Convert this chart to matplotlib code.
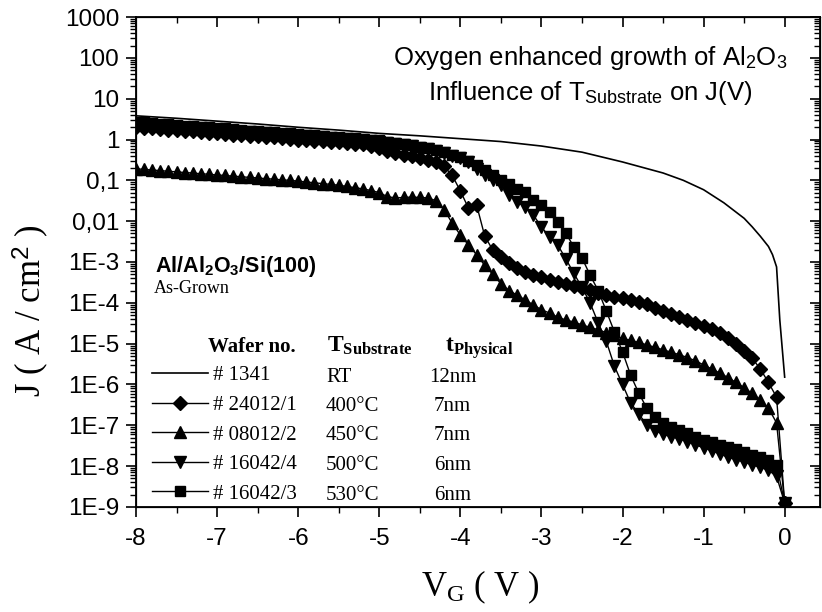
import numpy as np
import matplotlib
matplotlib.use('Agg')
import matplotlib.pyplot as plt
from matplotlib.ticker import FixedLocator, FixedFormatter, LogLocator, NullFormatter, MultipleLocator

plt.rcParams['font.family'] = 'Liberation Sans'
plt.rcParams['axes.unicode_minus'] = False
plt.rcParams['mathtext.fontset'] = 'custom'
plt.rcParams['mathtext.rm'] = 'Liberation Sans'
plt.rcParams['mathtext.sf'] = 'Liberation Sans:bold'
plt.rcParams['mathtext.bf'] = 'Liberation Serif:bold'
plt.rcParams['mathtext.it'] = 'Liberation Serif'

# gate voltage sweep (V), 0.1 V steps
v_gate = [-8.0, -7.9, -7.8, -7.7, -7.6, -7.5, -7.4, -7.3, -7.2, -7.1,
          -7.0, -6.9, -6.8, -6.7, -6.6, -6.5, -6.4, -6.3, -6.2, -6.1,
          -6.0, -5.9, -5.8, -5.7, -5.6, -5.5, -5.4, -5.3, -5.2, -5.1,
          -5.0, -4.9, -4.8, -4.7, -4.6, -4.5, -4.4, -4.3, -4.2, -4.1,
          -4.0, -3.9, -3.8, -3.7, -3.6, -3.5, -3.4, -3.3, -3.2, -3.1,
          -3.0, -2.9, -2.8, -2.7, -2.6, -2.5, -2.4, -2.3, -2.2, -2.1,
          -2.0, -1.9, -1.8, -1.7, -1.6, -1.5, -1.4, -1.3, -1.2, -1.1,
          -1.0, -0.9, -0.8, -0.7, -0.6, -0.5, -0.4, -0.3, -0.2, -0.1,
          0.0]

# log10 of J (A/cm^2)
logj_24012 = [0.30, 0.29, 0.27, 0.26, 0.24, 0.23, 0.21, 0.20, 0.18, 0.17,
              0.15, 0.14, 0.12, 0.11, 0.09, 0.08, 0.06, 0.05, 0.03, 0.02,
              0.00, -0.01, -0.03, -0.04, -0.06, -0.07, -0.09, -0.10, -0.12, -0.15,
              -0.22, -0.28, -0.33, -0.37, -0.41, -0.45, -0.50, -0.56, -0.66, -0.88,
              -1.26, -1.68, -1.60, -2.36, -2.71, -2.88, -3.03, -3.15, -3.24, -3.32,
              -3.37, -3.44, -3.49, -3.53, -3.60, -3.64, -3.69, -3.75, -3.80, -3.85,
              -3.89, -3.94, -3.99, -4.04, -4.12, -4.20, -4.27, -4.34, -4.41, -4.50,
              -4.57, -4.64, -4.74, -4.86, -5.00, -5.18, -5.36, -5.62, -5.95, -6.31,
              -8.90]

logj_08012 = [-0.72, -0.73, -0.75, -0.76, -0.78, -0.79, -0.81, -0.82, -0.84, -0.85,
              -0.87, -0.88, -0.90, -0.91, -0.93, -0.94, -0.96, -0.97, -0.99, -1.00,
              -1.02, -1.04, -1.06, -1.08, -1.10, -1.12, -1.15, -1.18, -1.21, -1.25,
              -1.30, -1.40, -1.43, -1.42, -1.41, -1.42, -1.43, -1.50, -1.72, -2.05,
              -2.34, -2.58, -2.82, -3.08, -3.30, -3.53, -3.70, -3.81, -3.93, -4.05,
              -4.17, -4.25, -4.35, -4.42, -4.47, -4.54, -4.60, -4.66, -4.73, -4.80,
              -4.87, -4.92, -4.97, -5.03, -5.09, -5.15, -5.21, -5.27, -5.34, -5.42,
              -5.52, -5.62, -5.72, -5.83, -5.95, -6.08, -6.22, -6.38, -6.58, -6.94,
              -8.90]

logj_16042_4 = [0.38, 0.37, 0.35, 0.34, 0.32, 0.31, 0.29, 0.28, 0.27, 0.25,
                0.24, 0.22, 0.21, 0.19, 0.18, 0.16, 0.15, 0.14, 0.12, 0.11,
                0.09, 0.08, 0.06, 0.05, 0.04, 0.02, 0.01, -0.01, -0.02, -0.04,
                -0.05, -0.08, -0.11, -0.14, -0.17, -0.20, -0.24, -0.29, -0.34, -0.40,
                -0.45, -0.55, -0.73, -0.88, -1.00, -1.12, -1.35, -1.52, -1.66, -1.85,
                -2.14, -2.39, -2.58, -2.92, -3.28, -3.62, -4.00, -4.49, -4.94, -5.55,
                -6.00, -6.45, -6.72, -6.99, -7.13, -7.22, -7.28, -7.33, -7.40, -7.48,
                -7.55, -7.62, -7.70, -7.78, -7.84, -7.90, -7.97, -8.03, -8.10, -8.25,
                -8.90]

logj_16042_3 = [0.43, 0.42, 0.40, 0.39, 0.37, 0.36, 0.34, 0.33, 0.31, 0.30,
                0.28, 0.27, 0.25, 0.24, 0.22, 0.21, 0.19, 0.18, 0.16, 0.15,
                0.13, 0.12, 0.10, 0.09, 0.07, 0.06, 0.04, 0.03, 0.01, 0.00,
                -0.02, -0.05, -0.08, -0.11, -0.14, -0.18, -0.22, -0.26, -0.31, -0.37,
                -0.42, -0.52, -0.62, -0.75, -0.88, -0.99, -1.10, -1.20, -1.29, -1.48,
                -1.60, -1.78, -2.02, -2.29, -2.63, -2.90, -3.32, -3.70, -4.20, -4.71,
                -5.20, -5.77, -6.21, -6.58, -6.80, -6.94, -7.04, -7.12, -7.20, -7.29,
                -7.35, -7.41, -7.47, -7.53, -7.59, -7.66, -7.72, -7.78, -7.84, -7.97,
                -8.90]

# wafer 1341 (solid line only)
v_1341 = [-8.0, -7.5, -7.0, -6.5, -6.0, -5.5, -5.0, -4.5, -4.0, -3.5, -3.0, -2.5,
          -2.0, -1.5, -1.25, -1.0, -0.75, -0.5, -0.4, -0.3, -0.2, -0.15, -0.1, -0.06, 0.0]
logj_1341 = [0.58, 0.52, 0.45, 0.38, 0.30, 0.23, 0.15, 0.09, 0.02, -0.05, -0.16, -0.31,
             -0.55, -0.82, -1.00, -1.23, -1.55, -1.93, -2.14, -2.37, -2.62, -2.82, -3.12, -4.42, -5.82]

wafers = ['# 1341', '# 24012/1', '# 08012/2', '# 16042/4', '# 16042/3']
temps = ['RT', '400°C', '450°C', '500°C', '530°C']
thickness = ['12nm', '7nm', '7nm', '6nm', '6nm']

y_ticks = [1e-9, 1e-8, 1e-7, 1e-6, 1e-5, 1e-4, 1e-3, 1e-2, 1e-1, 1, 10, 100, 1000]
y_labels = ['1E-9', '1E-8', '1E-7', '1E-6', '1E-5', '1E-4', '1E-3', '0,01', '0,1', '1', '10', '100', '1000']

fig = plt.figure(figsize=(8.22, 6.12), dpi=100)
ax = fig.add_axes([0.1655, 0.1716, 0.8315, 0.8006])

v = np.array(v_gate)
l0, = ax.plot(v_1341, 10 ** np.array(logj_1341), color='black', lw=1.2)
l1, = ax.plot(v, 10 ** np.array(logj_24012), color='black', lw=1, marker='D', ms=7.5)
l2, = ax.plot(v, 10 ** np.array(logj_08012), color='black', lw=1, marker='^', ms=8.5)
l3, = ax.plot(v, 10 ** np.array(logj_16042_4), color='black', lw=1, marker='v', ms=8.5)
l4, = ax.plot(v, 10 ** np.array(logj_16042_3), color='black', lw=1, marker='s', ms=7.5)

ax.set_yscale('log')
ax.set_xlim(-8, 0.43)
ax.set_ylim(1e-9, 1000)
ax.yaxis.set_major_locator(FixedLocator(y_ticks))
ax.yaxis.set_major_formatter(FixedFormatter(y_labels))
ax.yaxis.set_minor_locator(LogLocator(base=10, subs=np.arange(2, 10), numticks=30))
ax.yaxis.set_minor_formatter(NullFormatter())
ax.xaxis.set_major_locator(MultipleLocator(1))
ax.xaxis.set_minor_locator(MultipleLocator(0.5))
ax.tick_params(axis='both', which='major', direction='out', length=7, width=1.2, labelsize=17.5)
ax.tick_params(axis='both', which='minor', direction='out', length=4, width=1)
ax.tick_params(axis='x', which='major', pad=8)
ax.tick_params(axis='y', which='major', pad=5)
for s in ax.spines.values():
    s.set_linewidth(1.3)

# inward ticks on top and right
ax_r = ax.twinx()
ax_r.set_yscale('log')
ax_r.set_ylim(1e-9, 1000)
ax_r.yaxis.set_major_locator(FixedLocator(y_ticks))
ax_r.yaxis.set_minor_locator(LogLocator(base=10, subs=np.arange(2, 10), numticks=30))
ax_r.yaxis.set_minor_formatter(NullFormatter())
ax_r.tick_params(axis='y', which='major', direction='in', length=7, width=1.2, labelright=False)
ax_r.tick_params(axis='y', which='minor', direction='in', length=4, width=1)

ax_t = ax.twiny()
ax_t.set_xlim(-8, 0.43)
ax_t.xaxis.set_major_locator(MultipleLocator(1))
ax_t.xaxis.set_minor_locator(MultipleLocator(0.5))
ax_t.tick_params(axis='x', which='major', direction='in', length=7, width=1.2, labeltop=False)
ax_t.tick_params(axis='x', which='minor', direction='in', length=4, width=1)

ax.set_xlabel(r'V$_\mathit{G}$ ( V )', family='Liberation Serif', fontsize=25)
ax.xaxis.set_label_coords(0.504, -0.125)
ax.set_ylabel(r'J ( A / cm$^\mathit{2}$ )', family='Liberation Serif', fontsize=25)
ax.yaxis.set_label_coords(-0.125, 0.40)

ax.text(0.665, 0.916, r'Oxygen enhanced growth of Al$_\mathrm{2}$O$_\mathrm{3}$',
        transform=ax.transAxes, ha='center', va='center', fontsize=18.5)
ax.text(0.665, 0.845, r'Influence of T$_\mathrm{Substrate}$ on J(V)',
        transform=ax.transAxes, ha='center', va='center', fontsize=18.5)

ax.text(0.028, 0.48, r'Al/Al$_\mathsf{2}$O$_\mathsf{3}$/Si(100)', transform=ax.transAxes,
        fontsize=15.5, fontweight='bold', va='baseline')
ax.text(0.026, 0.437, 'As-Grown', transform=ax.transAxes, family='Liberation Serif',
        fontsize=13, va='baseline')

# legend table
ax.text(0.105, 0.316, 'Wafer no.', transform=ax.transAxes, family='Liberation Serif',
        fontsize=15, fontweight='bold', va='baseline')
ax.text(0.279, 0.316, r'T$_\mathbf{Substrate}$', transform=ax.transAxes, family='Liberation Serif',
        fontsize=17, fontweight='bold', va='baseline')
ax.text(0.452, 0.316, r't$_\mathbf{Physical}$', transform=ax.transAxes, family='Liberation Serif',
        fontsize=17, fontweight='bold', va='baseline')

leg = ax.legend([l0, l1, l2, l3, l4], wafers, loc='upper left', bbox_to_anchor=(0.0234, 0.288),
                frameon=False, borderpad=0, borderaxespad=0, handlelength=2.7,
                handletextpad=0.25, labelspacing=0.48, numpoints=1,
                prop={'family': 'Liberation Serif', 'size': 15})

row_y = [0.255, 0.196, 0.137, 0.076, 0.015]
for i in range(len(wafers)):
    ax.text(0.278, row_y[i], temps[i], transform=ax.transAxes, family='Liberation Serif',
            fontsize=15, va='baseline')
    ax.text(0.463, row_y[i], thickness[i], transform=ax.transAxes, family='Liberation Serif',
            fontsize=15, va='baseline', ha='center')

fig.savefig('out.png', dpi=100)
